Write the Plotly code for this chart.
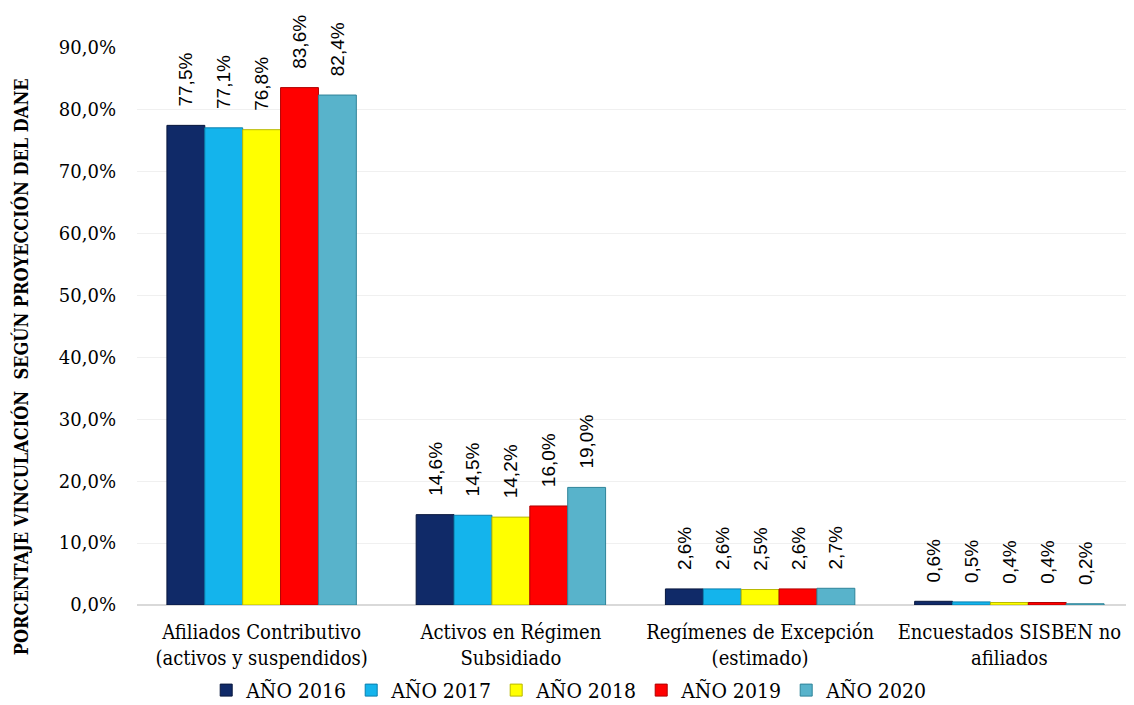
import plotly.graph_objects as go

categories = [
    "Afiliados Contributivo<br>(activos y suspendidos)",
    "Activos en Régimen<br>Subsidiado",
    "Regímenes de Excepción<br>(estimado)",
    "Encuestados SISBEN no<br>afiliados",
]
years = ["AÑO 2016", "AÑO 2017", "AÑO 2018", "AÑO 2019", "AÑO 2020"]
v2016 = [77.5, 14.6, 2.6, 0.6]
v2017 = [77.1, 14.5, 2.6, 0.5]
v2018 = [76.8, 14.2, 2.5, 0.4]
v2019 = [83.6, 16.0, 2.6, 0.4]
v2020 = [82.4, 19.0, 2.7, 0.2]
series = [v2016, v2017, v2018, v2019, v2020]

colors = ["#102a68", "#14b4ec", "#ffff00", "#ff0000", "#58b3cb"]
edges = ["#08173d", "#0a7fae", "#b8b800", "#b00000", "#2f8499"]

fig = go.Figure()
for name, vals, c, e in zip(years, series, colors, edges):
    fig.add_trace(
        go.Bar(
            x=categories,
            y=vals,
            name=name,
            marker=dict(color=c, line=dict(color=e, width=1)),
            texttemplate="\u00a0\u00a0\u00a0%{y:.1f}%",
            textposition="outside",
            textangle=-90,
            constraintext="none",
            textfont=dict(family="Liberation Sans, Arial, sans-serif", size=19, color="black"),
            cliponaxis=False,
        )
    )

# y-axis title as an annotation (it sits lower than the plot centre in the original)
fig.add_annotation(
    text="<b>PORCENTAJE VINCULACIÓN  SEGÚN PROYECCIÓN DEL DANE</b>",
    xref="paper", yref="paper",
    x=-0.1163, y=0.427,
    xanchor="center", yanchor="middle",
    textangle=-90,
    showarrow=False,
    font=dict(family="DejaVu Serif Condensed, DejaVu Serif, serif", size=18, color="black"),
)

fig.update_layout(
    barmode="group",
    bargap=0.24,
    bargroupgap=0,
    separators=",.",
    width=1134,
    height=705,
    paper_bgcolor="white",
    plot_bgcolor="white",
    font=dict(family="DejaVu Serif Condensed, DejaVu Serif, serif", size=20, color="black"),
    margin=dict(l=129, r=8, t=40, b=108, autoexpand=False),
    xaxis=dict(
        showline=False,
        ticks="",
        automargin=False,
        ticklabelstandoff=13,
        tickfont=dict(size=20),
    ),
    yaxis=dict(
        range=[0, 90],
        dtick=10,
        tickformat=".1f",
        ticksuffix="%",
        tickfont=dict(family="DejaVu Serif, serif", size=18),
        ticklabelstandoff=20,
        automargin=False,
        showgrid=True,
        gridcolor="#f0f0f0",
        gridwidth=1,
        zeroline=True,
        zerolinecolor="#d9d9d9",
        ticks="",
    ),
    legend=dict(
        orientation="h",
        x=0.433,
        xanchor="center",
        y=-0.1166,
        yanchor="top",
        font=dict(size=21),
        itemwidth=30,
        entrywidth=100,
        bgcolor="rgba(0,0,0,0)",
    ),
    showlegend=True,
)

fig.write_html("out.html")
